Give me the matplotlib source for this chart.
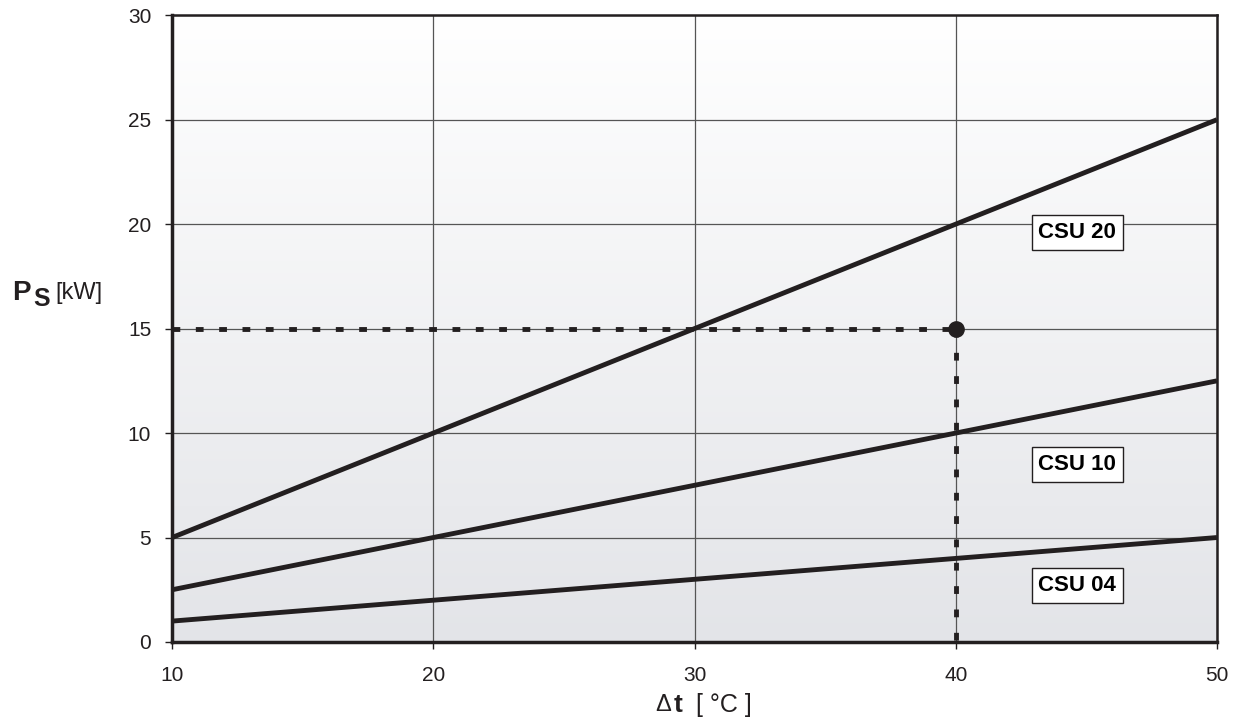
import matplotlib.pyplot as plt
import numpy as np

plt.rcParams['font.family'] = ['Liberation Sans', 'DejaVu Sans']

dt = [10, 20, 30, 40, 50]
csu20 = [5, 10, 15, 20, 25]
csu10 = [2.5, 5, 7.5, 10, 12.5]
csu04 = [1, 2, 3, 4, 5]
series = [("CSU 20", csu20, 44.65, 19.6), ("CSU 10", csu10, 44.65, 8.5), ("CSU 04", csu04, 44.65, 2.7)]

ex_dt = 40
ex_p = 15

fig = plt.figure(figsize=(12.38, 7.25), dpi=100)
ax = fig.add_axes([0.139, 0.1145, 0.844, 0.8645])

# background gradient: white at top -> light gray at bottom
grad = np.linspace(0, 1, 256).reshape(-1, 1)
top = np.array([1.0, 1.0, 1.0])
bot = np.array([0.89, 0.895, 0.91])
img = top + (bot - top) * grad[..., None]
ax.imshow(img, extent=[10, 50, 0, 30], origin='upper', aspect='auto', zorder=0)

ax.set_xlim(10, 50)
ax.set_ylim(0, 30)
ax.set_xticks([10, 20, 30, 40, 50])
ax.set_yticks(range(0, 31, 5))
ax.grid(True, color='#555555', linewidth=0.9, zorder=1)

for name, vals, lx, ly in series:
    ax.plot(dt, vals, color='#231f20', linewidth=3.5, zorder=3, solid_capstyle='butt')
    ax.text(lx, ly, name, fontsize=16, fontweight='bold', ha='center', va='center',
            zorder=5, bbox=dict(boxstyle='square,pad=0.3', facecolor='white',
                                edgecolor='#231f20', linewidth=1))

ax.plot([10, ex_dt], [ex_p, ex_p], color='#231f20', linewidth=3.5,
        linestyle=(0, (1.6, 3.2)), zorder=4)
ax.plot([ex_dt, ex_dt], [ex_p, 0], color='#231f20', linewidth=3.5,
        linestyle=(0, (1.6, 3.2)), zorder=4)
ax.plot([ex_dt], [ex_p], 'o', color='#231f20', markersize=11, zorder=6, clip_on=False)

for s in ['left', 'bottom']:
    ax.spines[s].set_linewidth(2.5)
    ax.spines[s].set_color('#231f20')
for s in ['top', 'right']:
    ax.spines[s].set_linewidth(1.8)
    ax.spines[s].set_color('#231f20')

ax.tick_params(axis='both', labelsize=15, length=5, width=1, color='#231f20',
               labelcolor='#231f20')
ax.tick_params(axis='x', pad=12)
ax.tick_params(axis='y', pad=10)

# y label: bold P with bold subscript S, then [kW]
fig.text(0.0097, 0.596, 'P', fontsize=20, fontweight='bold', va='center', ha='left', color='#231f20')
fig.text(0.0267, 0.587, 'S', fontsize=18, fontweight='bold', va='center', ha='left', color='#231f20')
fig.text(0.0444, 0.596, '[kW]', fontsize=17, va='center', ha='left', color='#231f20')

# x label: Δ t [°C] with bold t
fig.text(0.529, 0.028, 'Δ', fontsize=17, ha='left', va='center', color='#231f20')
fig.text(0.5445, 0.028, 't', fontsize=19, fontweight='bold', ha='left', va='center', color='#231f20')
fig.text(0.562, 0.028, '[ °C ]', fontsize=18, ha='left', va='center', color='#231f20')

fig.savefig('out.png', dpi=100)
